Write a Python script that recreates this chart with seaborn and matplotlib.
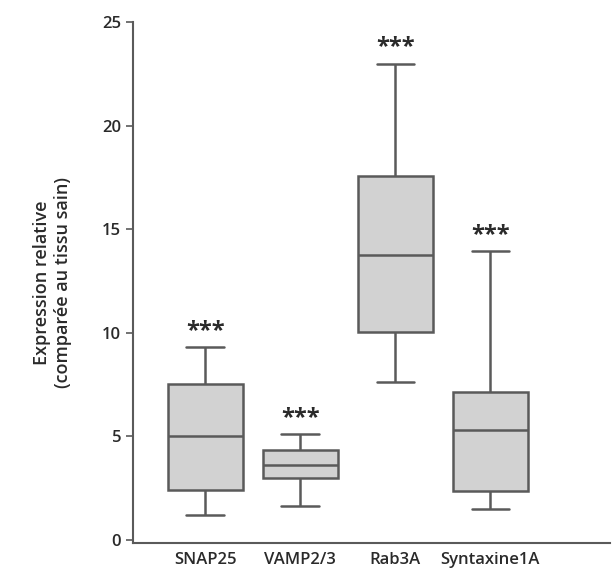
import pandas as pd
import seaborn as sns
import matplotlib.pyplot as plt

# five-number summaries (min, Q1, median, Q3, max)
genes = ["SNAP25", "VAMP2/3", "Rab3A", "Syntaxine1A"]
whisker_low = [1.2, 1.65, 7.6, 1.5]
q1 = [2.4, 3.0, 10.05, 2.35]
median = [5.0, 3.6, 13.75, 5.3]
q3 = [7.5, 4.35, 17.55, 7.15]
whisker_high = [9.3, 5.1, 23.0, 13.95]
signif = ["***", "***", "***", "***"]

rows = []
for i, g in enumerate(genes):
    for v in [whisker_low[i], q1[i], median[i], q3[i], whisker_high[i]]:
        rows.append({"gene": g, "expr": v})
df = pd.DataFrame(rows)

sns.set_style("white")
plt.rcParams["font.family"] = ["Open Sans", "DejaVu Sans"]

fig = plt.figure(figsize=(6.14, 5.83), dpi=100)
ax = fig.add_axes([0.2166, 0.069, 0.777, 0.893])

edge = "#5a5a5a"
txt = "#2a2a2a"
sns.boxplot(data=df, x="gene", y="expr", order=genes, whis=(0, 100),
            width=0.79, color="#d2d2d2", linecolor=edge, linewidth=1.8,
            showfliers=False, saturation=1, ax=ax)

for i, g in enumerate(genes):
    ax.text(i, whisker_high[i] + 0.2, signif[i], ha="center", va="bottom",
            fontsize=17, fontweight="bold", color=txt)

ax.set_ylim(-0.15, 25)
ax.set_xlim(-0.76, 4.26)
ax.set_yticks([0, 5, 10, 15, 20, 25])
ax.set_xlabel("")
ax.set_ylabel("Expression relative\n(comparée au tissu sain)", fontsize=13,
              color=txt, labelpad=22, fontweight="semibold")

sns.despine(ax=ax)
for s in ["left", "bottom"]:
    ax.spines[s].set_color(edge)
    ax.spines[s].set_linewidth(1.5)
ax.tick_params(axis="y", left=True, length=5, width=1.2, color=edge,
               labelsize=12, labelcolor=txt)
ax.tick_params(axis="x", bottom=False, labelsize=12, labelcolor=txt)
for lab in ax.get_xticklabels() + ax.get_yticklabels():
    lab.set_fontweight("semibold")

plt.savefig("out.png", dpi=100)
plt.close()
